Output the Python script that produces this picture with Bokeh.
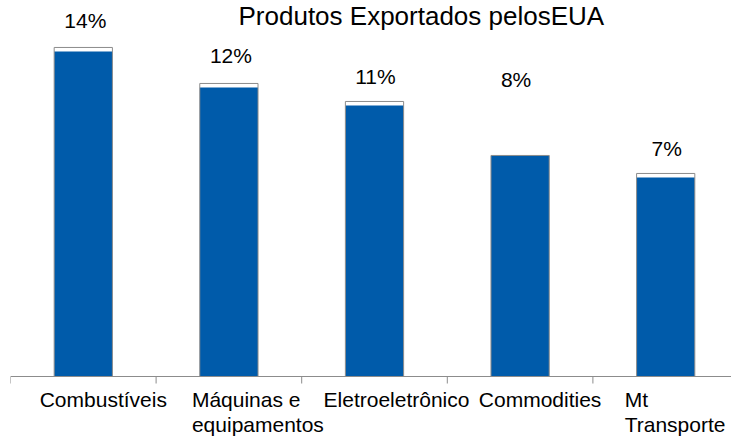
from bokeh.plotting import figure
from bokeh.models import ColumnDataSource, Range1d, LabelSet, Label, Span
from bokeh.core.properties import value
from bokeh.embed import file_html
from bokeh.resources import INLINE

# ---- data ----
title_text = "Produtos Exportados pelosEUA"
categories = ["Combustíveis", "Máquinas e\nequipamentos", "Eletroeletrônico", "Commodities", "Mt\nTransporte"]
values = [14, 12, 11, 8, 7]
value_labels = ["14%", "12%", "11%", "8%", "7%"]

# ---- styles ----
FONT = "Liberation Sans"
BLUE = "#005BAA"
GRAY = "#8C8C8C"
W, H = 731, 437
LEFT = 10
BASE_PX = 376            # baseline position from top
PX = 18.0                # pixels per percentage point
Y_BASE = -4.28           # value at the baseline
Y0 = Y_BASE - (H - BASE_PX) / PX
Y1 = Y_BASE + BASE_PX / PX
SLOT = 145.6
X1 = (W - LEFT) / SLOT
CAP = 4 / PX
TICK = 7 / PX
has_cap = [True, True, True, False, True]
value_dy = [19, 20, 17, 68, 17]
value_dx = [2, 2, 1, -4, 1]
cat_dx = [20, 29, 22, 20, -41]
left_aligned = [False, False, False, False, True]

n = len(categories)
xs = [i + 0.5 for i in range(n)]
bars = ColumnDataSource(dict(
    x=xs,
    top=values,
    inner_top=[v - CAP if c else v for v, c in zip(values, has_cap)],
    vlabel=value_labels,
    vdy=value_dy,
    vdx=value_dx,
))
idx_c = [i for i, l in enumerate(left_aligned) if not l]
idx_l = [i for i, l in enumerate(left_aligned) if l]
cats_c = ColumnDataSource(dict(x=[xs[i] for i in idx_c], y=[Y_BASE] * len(idx_c),
                               text=[categories[i] for i in idx_c], dx=[cat_dx[i] for i in idx_c]))
cats_l = ColumnDataSource(dict(x=[xs[i] for i in idx_l], y=[Y_BASE] * len(idx_l),
                               text=[categories[i] for i in idx_l], dx=[cat_dx[i] for i in idx_l]))
ticks = list(range(n + 1))

p = figure(width=W, height=H, x_range=Range1d(0, X1), y_range=Range1d(Y0, Y1),
           output_backend="svg", toolbar_location=None,
           x_axis_type=None, y_axis_type=None,
           min_border_left=LEFT, min_border_right=0, min_border_top=0, min_border_bottom=0)
p.outline_line_color = None
p.grid.visible = False

p.vbar(x="x", top="top", bottom=Y_BASE, width=0.4, source=bars, fill_color="white", line_color=None)
p.vbar(x="x", top="inner_top", bottom=Y_BASE, width=0.4, source=bars, fill_color=BLUE, line_color=None)
p.vbar(x="x", top="top", bottom=Y_BASE, width=0.4, source=bars, fill_color=None, line_color=GRAY, line_width=1)

# category axis: baseline and boundary ticks
p.add_layout(Span(location=Y_BASE, dimension="width", line_color=GRAY, line_width=1))
p.segment(x0=ticks, y0=[Y_BASE] * len(ticks), x1=ticks, y1=[Y_BASE - TICK] * len(ticks),
          line_color=GRAY, line_width=1)

vl = LabelSet(x="x", y="top", text="vlabel", source=bars, x_offset="vdx", y_offset="vdy",
              text_align="center", text_baseline="alphabetic",
              text_font=value(FONT), text_font_size="21px", text_color="#000000")
p.add_layout(vl)

for src, align in ((cats_c, "center"), (cats_l, "left")):
    cl = LabelSet(x="x", y="y", text="text", source=src, x_offset="dx", y_offset=-11,
                  text_align=align, text_baseline="top", text_line_height=1.1,
                  text_font=value(FONT), text_font_size="21px", text_color="#000000")
    p.add_layout(cl)

t = Label(x=0, y=Y1, text=title_text, x_offset=228, y_offset=-15,
          text_align="left", text_baseline="alphabetic",
          text_font=FONT, text_font_size="26px", text_color="#000000")
p.add_layout(t)

with open("out.html", "w", encoding="utf-8") as f:
    f.write(file_html(p, INLINE))
